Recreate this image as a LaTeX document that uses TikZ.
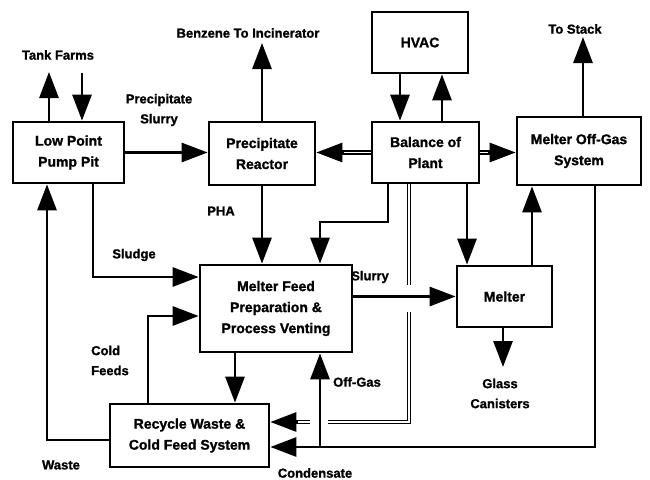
\documentclass[tikz,border=0pt]{standalone}
\usepackage{fontspec}
\setmainfont{Liberation Sans}[BoldFont={Liberation Sans Bold}, BoldFeatures={FakeBold=1.2}]
\usetikzlibrary{arrows.meta,calc}
\begin{document}
\begin{tikzpicture}[x=1pt,y=-1pt,
  box/.style={draw, line width=2.7pt, rectangle, align=center, font=\bfseries\fontsize{14}{21}\selectfont, inner sep=0pt},
  lbl/.style={font=\bfseries\fontsize{13}{20}\selectfont, align=center, inner sep=0pt},
  flow/.style={line width=2.8pt, -{Triangle[length=26pt,width=19pt]}},
  dbl/.style={double, line width=1.4pt, double distance=1.5pt},
]
\useasboundingbox (0,0) rectangle (650,479);

% boxes
\node[box, minimum width=111pt, minimum height=61pt] (lppp) at (68.5,152.5) {Low Point\\Pump Pit};
\node[box, minimum width=106pt, minimum height=63pt] (pr) at (262,153.5) {Precipitate\\Reactor};
\node[box, minimum width=96pt, minimum height=61pt] (hvac) at (420,42.5) {HVAC};
\node[box, minimum width=107pt, minimum height=61pt] (bop) at (425.5,152.5) {Balance of\\Plant};
\node[box, minimum width=124pt, minimum height=68pt] (mogs) at (579,151) {Melter Off-Gas\\System};
\node[box, minimum width=152pt, minimum height=87pt] (mfp) at (276,308.5) {Melter Feed\\Preparation \&\\Process Venting};
\node[box, minimum width=95pt, minimum height=61pt] (melter) at (504.5,296.5) {Melter};
\node[box, minimum width=159pt, minimum height=63pt] (rw) at (189.5,435.5) {Recycle Waste \&\\Cold Feed System};

% free ends
\coordinate (tfup) at (49,72);
\coordinate (tfdn) at (82,73);
\coordinate (benz) at (262,43);
\coordinate (stack) at (583,37);
\coordinate (glass) at (503,367);
\coordinate (c1) at (388,222);
\coordinate (c2) at (320,222);
\coordinate (c3) at (409,285);
\coordinate (c4) at (409,312);
\coordinate (c5) at (409,422);
\coordinate (c6) at (328,422);
\coordinate (c7) at (310,422);
\coordinate (c8) at (595,447);
\coordinate (c9) at (320,447);
\coordinate (c10) at (93,277);
\coordinate (c11) at (148,316);
\coordinate (c12) at (47,440);

% labels
\node[lbl] (ltf) at (58,55) {Tank Farms};
\node[lbl] (lbz) at (248,33) {Benzene To Incinerator};
\node[lbl] (lps) at (159,110) {Precipitate\\Slurry};
\node[lbl] (lts) at (575,29) {To Stack};
\node[lbl] (lpha) at (221,211) {PHA};
\node[lbl] (lsl) at (134,255) {Sludge};
\node[lbl, align=left, anchor=west] (lcf) at (91,360.5) {Cold\\Feeds};
\node[lbl] (lws) at (61,465) {Waste};
\node[lbl] (lcd) at (315,473) {Condensate};
\node[lbl] (log) at (357,382) {Off-Gas};
\node[lbl] (lsy) at (370,277) {Slurry};
\node[lbl] (lgc) at (500,393.5) {Glass\\Canisters};

% connectors
\draw[flow] (lppp.north -| tfup) -- (tfup);
\draw[flow] (tfdn) -- (lppp.north -| tfdn);
\draw[flow] (lppp.east) -- (lppp.east -| pr.west);
\draw[flow] (pr.north) -- (benz);
\draw[dbl, shorten >=20pt] (bop.west) -- (bop.west -| pr.east);
\draw[flow] ($(bop.west -| pr.east)+(28,0)$) -- (bop.west -| pr.east);
\draw[flow] (hvac.south -| 400,0) -- (bop.north -| 400,0);
\draw[flow] (bop.north -| 442,0) -- (hvac.south -| 442,0);
\draw[dbl, shorten >=20pt] (bop.east) -- (bop.east -| mogs.west);
\draw[flow] ($(bop.east -| mogs.west)+(-28,0)$) -- (bop.east -| mogs.west);
\draw[flow] (mogs.north -| stack) -- (stack);
\draw[flow] (pr.south) -- (pr.south |- mfp.north);
\draw[flow] (bop.south -| c1) -- (c1) -- (c2) -- (mfp.north -| c2);
\draw[dbl] (bop.south -| c3) -- (c3);
\draw[dbl] (c4) -- (c5) -- (c6);
\draw[dbl, shorten >=20pt] (c7) -- (rw.east |- c7);
\draw[flow] ($(rw.east |- c7)+(28,0)$) -- (rw.east |- c7);
\draw[flow] (bop.south -| 467,0) -- (melter.north -| 467,0);
\draw[flow] (melter.north -| 532,0) -- (mogs.south -| 532,0);
\draw[flow] (mogs.south -| c8) -- (c8) -- (rw.east |- c8);
\draw[flow] (c9) -- (mfp.south -| c9);
\draw[flow] (mfp.east |- melter.west) -- (melter.west);
\draw[flow] (melter.south -| glass) -- (glass);
\draw[flow] (lppp.south -| c10) -- (c10) -- (mfp.west |- c10);
\draw[flow] (rw.north -| c11) -- (c11) -- (mfp.west |- c11);
\draw[flow] (mfp.south -| 235,0) -- (rw.north -| 235,0);
\draw[flow] (rw.west |- c12) -- (c12) -- (lppp.south -| c12);
\end{tikzpicture}
\end{document}
